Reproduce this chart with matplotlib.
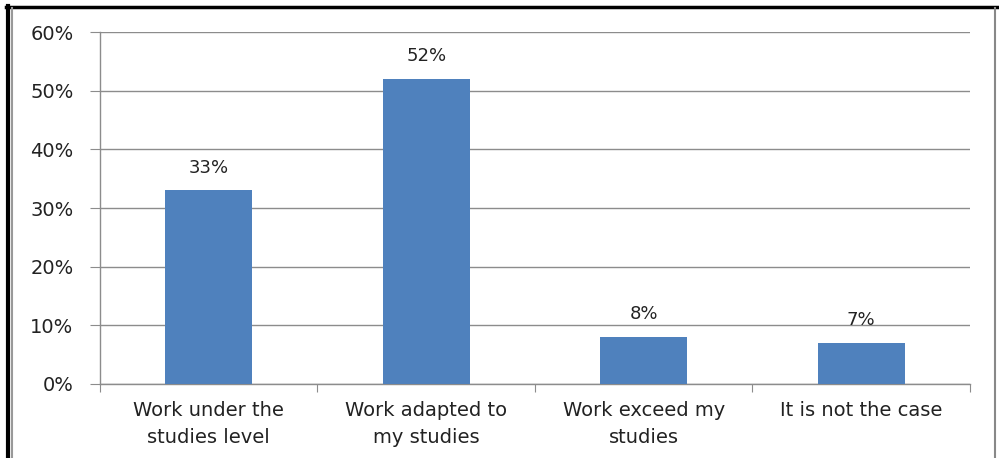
import matplotlib
matplotlib.use("Agg")
import matplotlib.pyplot as plt
from matplotlib.lines import Line2D

categories = ["Work under the\nstudies level", "Work adapted to\nmy studies",
              "Work exceed my\nstudies", "It is not the case"]
values = [33, 52, 8, 7]
yticks = [0, 10, 20, 30, 40, 50, 60]

plt.rcParams['font.family'] = ['DejaVu Sans']
fig = plt.figure(figsize=(9.99, 4.58), dpi=100)
fig.patch.set_facecolor('white')
ax = fig.add_axes([0.100, 0.1616, 0.871, 0.7684])

x = range(len(categories))
ax.bar(x, values, width=0.4, color='#4F81BD', zorder=3)
for xi, v in zip(x, values):
    ax.text(xi, v + 3.0, f"{v}%", ha='center', va='baseline', fontsize=13, color='#222222')

ax.set_xlim(-0.5, len(categories) - 0.5)
ax.set_ylim(0, 60)
ax.set_yticks(yticks)
ax.set_yticklabels([f"{t}%" for t in yticks], fontsize=14, color='#222222')
ax.yaxis.grid(True, color='#8C8C8C', linewidth=1.0, zorder=0)
ax.set_axisbelow(True)

ax.set_xticks([i + 0.5 for i in range(-1, len(categories))], minor=False)
ax.set_xticklabels([])
ax.set_xticks(list(x), minor=True)
ax.set_xticklabels(categories, minor=True, fontsize=14, color='#222222', linespacing=1.55)
ax.tick_params(axis='x', which='minor', length=0, pad=12)
ax.tick_params(axis='x', which='major', length=6, color='#8C8C8C', direction='out')
ax.tick_params(axis='y', length=7, color='#8C8C8C', pad=12)

for s in ['top', 'right']:
    ax.spines[s].set_visible(False)
for s in ['left', 'bottom']:
    ax.spines[s].set_color('#8C8C8C')
    ax.spines[s].set_linewidth(1.0)

W, H = 999, 458
fig.add_artist(Line2D([6/W, 999/W], [1 - 7/H, 1 - 7/H], color='black', linewidth=2.5, transform=fig.transFigure))
fig.add_artist(Line2D([8/W, 8/W], [0, 1 - 6/H], color='black', linewidth=3, transform=fig.transFigure))
fig.add_artist(Line2D([12/W, 12/W], [0, 1 - 8/H], color='#999999', linewidth=1.5, transform=fig.transFigure))
fig.add_artist(Line2D([995/W, 995/W], [0, 1 - 8/H], color='#888888', linewidth=1.5, transform=fig.transFigure))

fig.savefig("out.png", dpi=100, facecolor='white')
